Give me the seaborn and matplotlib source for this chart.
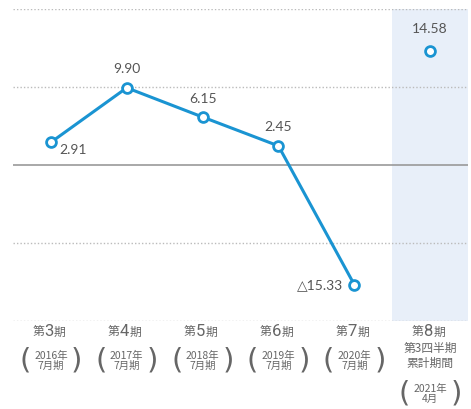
import matplotlib
matplotlib.use("Agg")
import matplotlib.pyplot as plt
import matplotlib.transforms as mtransforms
import seaborn as sns
import pandas as pd

sns.set_theme(style="white")
plt.rcParams['font.family'] = ['Noto Sans CJK JP', 'DejaVu Sans']

# ---- data ----
period_nums = ["3", "4", "5", "6", "7", "8"]
sub_labels = ["2016年\n7月期", "2017年\n7月期", "2018年\n7月期", "2019年\n7月期", "2020年\n7月期", "2021年\n4月"]
values = [2.91, 9.90, 6.15, 2.45, -15.33, 14.58]
value_labels = ["2.91", "9.90", "6.15", "2.45", "△15.33", "14.58"]
grid_levels = [20, 10, -10, -20]

df = pd.DataFrame({"x": range(len(values)), "v": values})

fig = plt.figure(figsize=(4.71, 4.10), dpi=100)
ax = fig.add_axes([13/471, 1-322/410, (468-13)/471, (322-10)/410])

blue = "#1a94d2"
gray = "#666666"

ax.axvspan(4.5, 5.5, color="#e8eff9", zorder=0, lw=0)

for g in grid_levels:
    ax.axhline(g, color="#bbbbbb", lw=1, ls=(0, (1, 1.5)), zorder=1)
ax.axhline(0, color="#999999", lw=1.2, zorder=1)

sns.lineplot(data=df.iloc[:5], x="x", y="v", ax=ax, color=blue, lw=2.2, zorder=3)
sns.scatterplot(data=df, x="x", y="v", ax=ax, s=50, facecolor="white",
                edgecolor=blue, linewidth=2, zorder=4)

offsets = [(16, -5, "center", "center"), (0, 14, "center", "center"),
           (0, 14, "center", "center"), (0, 14, "center", "center"),
           (-8, 0, "right", "center"), (0, 17, "center", "center")]
for i, (lab, (dx, dy, ha, va)) in enumerate(zip(value_labels, offsets)):
    ax.annotate(lab, (i, values[i]), xytext=(dx, dy), textcoords="offset points",
                ha=ha, va=va, fontsize=10, color="#555555",
                fontfamily=["Lato", "DejaVu Sans"])

ax.set_xlim(-0.5, 5.5)
ax.set_ylim(-20, 20)
ax.set_xticks([])
ax.set_yticks([])
ax.set_xlabel("")
ax.set_ylabel("")
for s in ax.spines.values():
    s.set_visible(False)

trans = mtransforms.blended_transform_factory(ax.transData, fig.transFigure)
def fy(px):
    return 1 - px / 410

for i, (n, sub) in enumerate(zip(period_nums, sub_labels)):
    y0 = fy(332)
    ax.annotate(n, (i, y0), xycoords=trans, xytext=(-2, 0), textcoords="offset pixels",
                ha="center", va="center", fontsize=12, color=gray,
                fontfamily=["Roboto", "DejaVu Sans"])
    ax.annotate("第", (i, y0), xycoords=trans, xytext=(-7, 0), textcoords="offset pixels",
                ha="right", va="center", fontsize=8.5, color=gray)
    ax.annotate("期", (i, y0), xycoords=trans, xytext=(3, 0), textcoords="offset pixels",
                ha="left", va="center", fontsize=8.5, color=gray)
    if i < 5:
        ycen = 361
    else:
        ax.text(i, fy(356), "第3四半期\n累計期間", transform=trans, ha="center",
                va="center", fontsize=8.5, color=gray, linespacing=1.15)
        ycen = 394
    ax.text(i, fy(ycen), sub, transform=trans, ha="center", va="center",
            fontsize=7.5, color=gray, linespacing=1.05)
    ax.text(i - 0.34, fy(ycen), "(", transform=trans, ha="center", va="center",
            fontsize=21, color=gray, fontfamily="DejaVu Sans")
    ax.text(i + 0.34, fy(ycen), ")", transform=trans, ha="center", va="center",
            fontsize=21, color=gray, fontfamily="DejaVu Sans")

fig.savefig("out.png", dpi=100)
